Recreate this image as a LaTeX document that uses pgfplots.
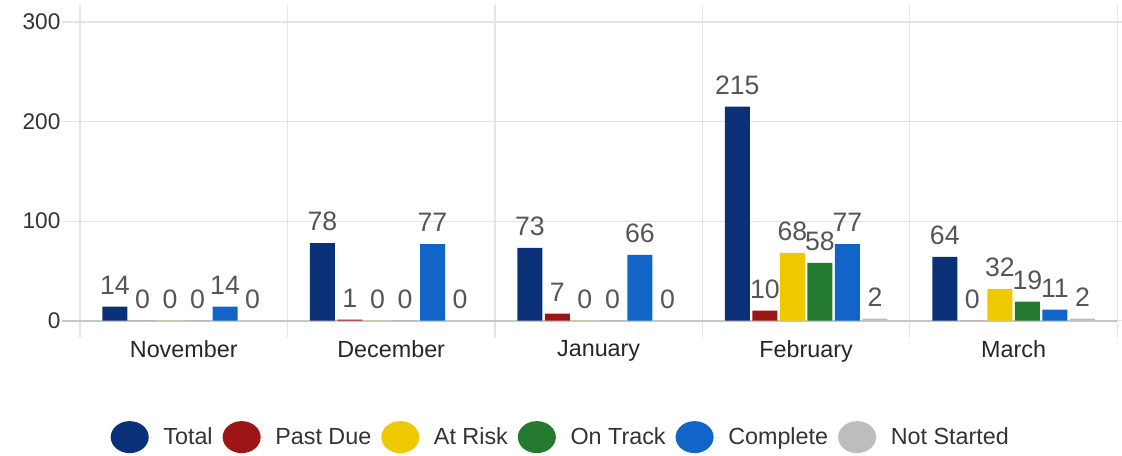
\documentclass[border=0pt]{standalone}
\usepackage{pgfplots}
\pgfplotsset{compat=1.18}
\usepackage{fontspec}
\setmainfont{Liberation Sans}
\definecolor{total}{HTML}{0B3178}
\definecolor{pastdue}{HTML}{9E1515}
\definecolor{atrisk}{HTML}{EEC900}
\definecolor{ontrack}{HTML}{237A2E}
\definecolor{complete}{HTML}{1265C8}
\definecolor{notstarted}{HTML}{BDBDBD}
\definecolor{gridgray}{HTML}{E4E4E4}
\definecolor{labelgray}{HTML}{555555}

\begin{document}
\begin{tikzpicture}
\useasboundingbox (-60pt,-101.25pt) rectangle (781.5pt,240.5pt);
\begin{axis}[
    at={(0,0)}, anchor=south west,
    scale only axis,
    width=778pt, height=224pt,
    ybar=1.9pt, bar width=18.75pt,
    xmin=-0.5, xmax=4.5,
    ymin=0, ymax=300,
    clip=false,
    ytick={0,100,200,300},
    xtick={0,...,4},
    xticklabels={November,December,January,February,March},
    minor xtick={-0.5,0.5,...,4.5},
    axis line style={draw=none},
    ymajorgrids, xminorgrids,
    grid style={draw=gridgray, line width=0.9pt},
    tick align=outside,
    major tick length=13.5pt,
    minor tick length=13pt,
    major x tick style={draw=none},
    ytick style={draw=gridgray, line width=0.9pt},
    minor x tick style={draw=gridgray, line width=0.9pt},
    /pgf/number format/assume math mode=true,
    yticklabel style={font=\fontsize{17}{20}\selectfont, text=black!80, anchor=east, inner sep=0pt, xshift=-1pt},
    xticklabel style={font=\fontsize{17.5}{20}\selectfont, text=black!85, anchor=north, inner sep=0pt, yshift=-1pt},
    nodes near coords,
    every node near coord/.append style={font=\fontsize{20}{22}\selectfont, text=labelgray, anchor=south, inner sep=0pt, yshift=9pt},
    legend columns=6,
    legend style={at={(0.4625,-0.39)}, anchor=center, draw=none, fill=none,
        font=\fontsize{17.5}{20}\selectfont, text=black!80,
        column sep=7.5pt, nodes={inner sep=0pt}},
    legend image code/.code={\fill[#1] (14.25pt,0pt) ellipse [x radius=14.25pt, y radius=12pt];
        \path (0pt,0pt) -- (32pt,0pt);},
]
\draw[draw=black!22, line width=1.4pt] ([xshift=-13.5pt]rel axis cs:0,0) -- (rel axis cs:1,0);
\addplot[fill=total, draw=none] coordinates {(0,14) (1,78) (2,73) (3,215) (4,64)};
\addlegendentry{Total}
\addplot[fill=pastdue, draw=none] coordinates {(0,0) (1,1) (2,7) (3,10) (4,0)};
\addlegendentry{Past Due}
\addplot[fill=atrisk, draw=none] coordinates {(0,0) (1,0) (2,0) (3,68) (4,32)};
\addlegendentry{At Risk}
\addplot[fill=ontrack, draw=none] coordinates {(0,0) (1,0) (2,0) (3,58) (4,19)};
\addlegendentry{On Track}
\addplot[fill=complete, draw=none] coordinates {(0,14) (1,77) (2,66) (3,77) (4,11)};
\addlegendentry{Complete}
\addplot[fill=notstarted, draw=none] coordinates {(0,0) (1,0) (2,0) (3,2) (4,2)};
\addlegendentry{Not Started}
\end{axis}
\end{tikzpicture}
\end{document}
